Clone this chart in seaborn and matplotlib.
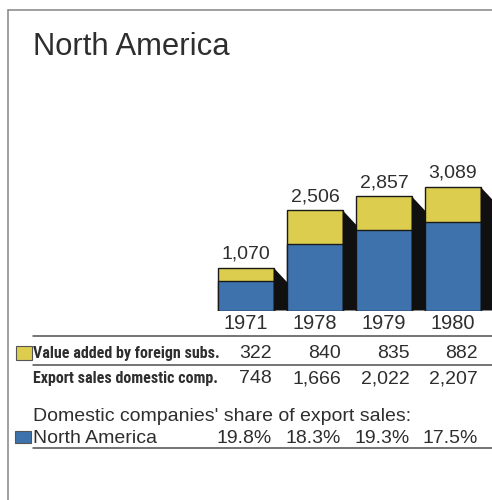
import matplotlib
matplotlib.use("Agg")
import matplotlib.pyplot as plt
from matplotlib import font_manager
from matplotlib.lines import Line2D
from matplotlib.patches import Rectangle, Polygon
import seaborn as sns

# --- data -------------------------------------------------------------
years = ["1971", "1978", "1979", "1980"]
foreign_value_added = [322, 840, 835, 882]
domestic_exports = [748, 1666, 2022, 2207]
domestic_share = [19.8, 18.3, 19.3, 17.5]

region = "North America"
row_foreign = "Value added by foreign subs."
row_domestic = "Export sales domestic comp."
share_caption = "Domestic companies' share of export sales:"

totals = [f + d for f, d in zip(foreign_value_added, domestic_exports)]

# --- style ------------------------------------------------------------
YELLOW = "#dccd4f"
BLUE = "#3d72ad"
SHADOW = "#101010"
INK = "#2e2e2e"
RULE = "#4a4a4a"
FRAME = "#8a8a8a"

sns.set_theme(style="white")
plt.rcParams["font.family"] = ["Liberation Sans", "DejaVu Sans"]

installed = {f.name for f in font_manager.fontManager.ttflist}
narrow = "Liberation Sans"
for cand in ["Liberation Sans Narrow", "DejaVu Sans Condensed", "Roboto Condensed",
             "Open Sans Condensed"]:
    if cand in installed:
        narrow = cand
        break

W, H = 492, 500
fig = plt.figure(figsize=(W / 100, H / 100), dpi=100)


def fx(px):
    return px / W


def fy(px):
    return 1 - px / H


def pt(px):
    return px * 72 / 100


# --- bars ---------------------------------------------------------------
px_per_unit = 0.04
base_px = 310.5
slot = 69.0
first_center = 246.0
y_top = 3500
ax_left = first_center - slot / 2
ax = fig.add_axes([fx(ax_left), (H - base_px) / H, 4 * slot / W, y_top * px_per_unit / H])

sns.barplot(x=years, y=totals, color=YELLOW, saturation=1, width=0.8,
            edgecolor="#1a1a1a", linewidth=1.0, ax=ax, zorder=3)
sns.barplot(x=years, y=domestic_exports, color=BLUE, saturation=1, width=0.8,
            edgecolor="#1a1a1a", linewidth=1.0, ax=ax, zorder=3)
ax.set_xlim(-0.5, 3.5)
ax.set_ylim(0, y_top)
ax.axis("off")

# dark extruded side face on the right of each stacked column
fig.canvas.draw()
depth_x, depth_y = 14, 15
for i, total in enumerate(totals):
    bar = ax.patches[i]
    right = bar.get_x() + bar.get_width()
    (rx, ty) = ax.transData.transform((right, total))
    (_, by) = ax.transData.transform((right, 0))
    verts = [(rx, ty), (rx + depth_x, ty - depth_y), (rx + depth_x, by), (rx, by)]
    fig.patches.append(Polygon(verts, closed=True, transform=None, facecolor=SHADOW,
                               edgecolor="none", zorder=1, figure=fig))

for i, total in enumerate(totals):
    ax.annotate(f"{total:,}", (i, total), xytext=(0, pt(9)), textcoords="offset points",
                ha="center", va="baseline", fontsize=pt(19.5), color=INK)

# --- title and frame ----------------------------------------------------
fig.text(fx(33), fy(55), region, fontsize=pt(31), color=INK, va="baseline", ha="left")
fig.add_artist(Line2D([fx(8), fx(W)], [fy(10), fy(10)], color=FRAME, lw=pt(1.6)))
fig.add_artist(Line2D([fx(8), fx(8)], [fy(10), fy(H)], color=FRAME, lw=pt(1.6)))

# --- table under the bars -----------------------------------------------
centers = [first_center + slot * i for i in range(4)]
for c, yr in zip(centers, years):
    fig.text(fx(c), fy(329), yr, fontsize=pt(20), color=INK, ha="center", va="baseline")

for y in (336, 365, 448):
    fig.add_artist(Line2D([fx(33), fx(W)], [fy(y), fy(y)], color=RULE, lw=pt(1.5)))

col_right = [272, 341, 410, 478]
num_size = pt(19.5)

fig.add_artist(Rectangle((fx(16), fy(360)), fx(16), 14 / H, facecolor=YELLOW,
                         edgecolor="#555555", lw=0.8))
fig.text(fx(33), fy(358), row_foreign, fontsize=pt(16), fontweight="bold",
         family=[narrow, "DejaVu Sans"], color=INK, ha="left", va="baseline")
for x, v in zip(col_right, foreign_value_added):
    fig.text(fx(x), fy(358), f"{v:,}", fontsize=num_size, color=INK, ha="right", va="baseline")

fig.text(fx(33), fy(383), row_domestic, fontsize=pt(16), fontweight="bold",
         family=[narrow, "DejaVu Sans"], color=INK, ha="left", va="baseline")
for x, v in zip(col_right, domestic_exports):
    fig.text(fx(x), fy(383), f"{v:,}", fontsize=num_size, color=INK, ha="right", va="baseline")

fig.text(fx(33), fy(421), share_caption, fontsize=num_size, color=INK, ha="left", va="baseline")
fig.add_artist(Rectangle((fx(15), fy(443)), fx(16), 12 / H, facecolor=BLUE,
                         edgecolor="#555555", lw=0.8))
fig.text(fx(33), fy(443), region, fontsize=num_size, color=INK, ha="left", va="baseline")
for x, v in zip(col_right, domestic_share):
    fig.text(fx(x), fy(443), f"{v:.1f}%", fontsize=num_size, color=INK, ha="right", va="baseline")

fig.savefig("out.png", dpi=100, facecolor="white")
